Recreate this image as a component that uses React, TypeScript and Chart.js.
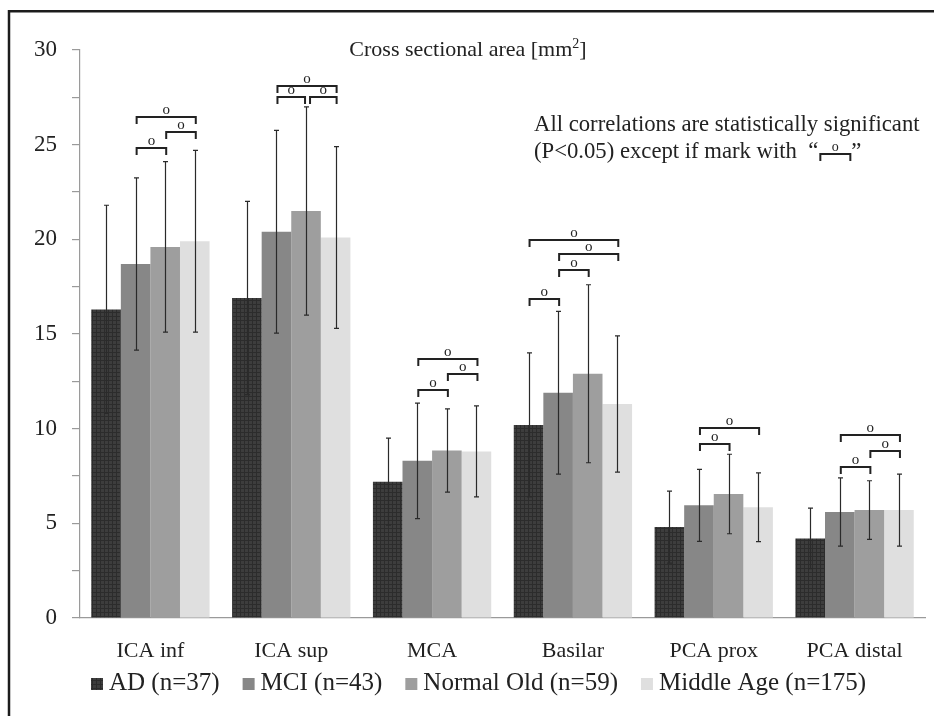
import React, { useEffect, useRef } from "react";
import { Chart, registerables } from "chart.js";

Chart.register(...registerables);

// ---------- data ----------
const categories = ["ICA inf", "ICA sup", "MCA", "Basilar", "PCA prox", "PCA distal"];
const seriesLabels = ["AD (n=37)", "MCI (n=43)", "Normal Old (n=59)", "Middle Age (n=175)"];

const meanAD = [16.3, 16.9, 7.2, 10.2, 4.8, 4.2];
const errAD = [5.5, 5.1, 2.3, 3.8, 1.9, 1.6];
const meanMCI = [18.7, 20.4, 8.3, 11.9, 5.95, 5.6];
const errMCI = [4.55, 5.35, 3.05, 4.3, 1.9, 1.8];
const meanNO = [19.6, 21.5, 8.85, 12.9, 6.55, 5.7];
const errNO = [4.5, 5.5, 2.2, 4.7, 2.1, 1.55];
const meanMA = [19.9, 20.1, 8.8, 11.3, 5.85, 5.7];
const errMA = [4.8, 4.8, 2.4, 3.6, 1.82, 1.9];

const yMin = 0;
const yMax = 30;
const yMinorStep = 2.5;
const yLabelStep = 5;

// non-significant comparisons: [category index, series from, series to, level (mm²)]
const bracketCats = [0, 0, 0, 1, 1, 1, 2, 2, 2, 3, 3, 3, 3, 4, 4, 5, 5, 5];
const bracketFrom = [1, 2, 1, 1, 2, 1, 1, 2, 1, 0, 1, 1, 0, 1, 1, 1, 2, 1];
const bracketTo = [2, 3, 3, 2, 3, 3, 2, 3, 3, 1, 2, 3, 3, 2, 3, 2, 3, 3];
const bracketLevel = [24.85, 25.65, 26.44, 27.5, 27.5, 28.1, 12.02, 12.9, 13.7, 16.84, 18.4, 19.23, 19.96, 9.19, 10.02, 8.0, 8.83, 9.65];
const bracketMark = "o";

const titleMain = "Cross sectional area [mm";
const titleSup = "2";
const titleEnd = "]";
const noteLine1 = "All correlations are statistically significant";
const noteLine2 = "(P<0.05) except if mark with  \u201C";
const noteEnd = "\u201D";

const means = [meanAD, meanMCI, meanNO, meanMA];
const errs = [errAD, errMCI, errNO, errMA];

// ---------- styling ----------
const SERIF = "'Liberation Serif', 'Times New Roman', serif";
const baseColors = ["#3b3b3b", "#878787", "#9e9e9e", "#dfdfdf"];
const INK = "#222222";

function makePattern(base: string, line: string): CanvasPattern | string {
  const c = document.createElement("canvas");
  c.width = 4;
  c.height = 4;
  const g = c.getContext("2d");
  if (!g) return base;
  g.fillStyle = base;
  g.fillRect(0, 0, 4, 4);
  g.fillStyle = line;
  g.fillRect(0, 0, 4, 1);
  g.fillRect(0, 0, 1, 4);
  return g.createPattern(c, "repeat") || base;
}

export default function App() {
  const ref = useRef<HTMLCanvasElement | null>(null);

  useEffect(() => {
    document.body.style.margin = "0";
    document.body.style.background = "#ffffff";
    const canvas = ref.current;
    if (!canvas) return;

    const fills: (string | CanvasPattern)[] = [
      makePattern("#3d3d3d", "#2c2c2c"),
      baseColors[1],
      baseColors[2],
      baseColors[3],
    ];

    const overlay = {
      id: "overlay",
      afterDatasetsDraw(chart: any) {
        const ctx: CanvasRenderingContext2D = chart.ctx;
        const y = chart.scales.y;
        ctx.save();
        // error bars
        ctx.strokeStyle = "#2a2a2a";
        ctx.lineWidth = 1.2;
        for (let s = 0; s < means.length; s++) {
          const meta = chart.getDatasetMeta(s);
          for (let c = 0; c < categories.length; c++) {
            const bar = meta.data[c];
            const x = Math.round(bar.x) + 0.5;
            const top = y.getPixelForValue(means[s][c] + errs[s][c]);
            const bot = y.getPixelForValue(means[s][c] - errs[s][c]);
            ctx.beginPath();
            ctx.moveTo(x, top);
            ctx.lineTo(x, bot);
            ctx.moveTo(x - 2.5, top);
            ctx.lineTo(x + 2.5, top);
            ctx.moveTo(x - 2.5, bot);
            ctx.lineTo(x + 2.5, bot);
            ctx.stroke();
          }
        }
        // brackets
        ctx.strokeStyle = INK;
        ctx.fillStyle = INK;
        ctx.lineWidth = 2;
        ctx.font = `15px ${SERIF}`;
        ctx.textAlign = "center";
        ctx.textBaseline = "alphabetic";
        for (let i = 0; i < bracketCats.length; i++) {
          const c = bracketCats[i];
          let x1 = chart.getDatasetMeta(bracketFrom[i]).data[c].x;
          let x2 = chart.getDatasetMeta(bracketTo[i]).data[c].x;
          const yy = Math.round(y.getPixelForValue(bracketLevel[i]));
          for (let j = 0; j < bracketCats.length; j++) {
            if (j === i || bracketCats[j] !== c || bracketLevel[j] !== bracketLevel[i]) continue;
            if (bracketTo[j] === bracketFrom[i]) x1 += 3;
            if (bracketFrom[j] === bracketTo[i]) x2 -= 2;
          }
          x1 += 1;
          x2 += 1;
          ctx.beginPath();
          ctx.moveTo(x1, yy + 7);
          ctx.lineTo(x1, yy);
          ctx.lineTo(x2, yy);
          ctx.lineTo(x2, yy + 7);
          ctx.stroke();
          ctx.fillText(bracketMark, (x1 + x2) / 2, yy - 3);
        }
        ctx.restore();
      },
      afterDraw(chart: any) {
        const ctx: CanvasRenderingContext2D = chart.ctx;
        ctx.save();
        ctx.fillStyle = INK;
        ctx.textBaseline = "alphabetic";
        ctx.textAlign = "left";

        // title
        ctx.font = `22px ${SERIF}`;
        const w1 = ctx.measureText(titleMain).width;
        const w3 = ctx.measureText(titleEnd).width;
        ctx.font = `14px ${SERIF}`;
        const w2 = ctx.measureText(titleSup).width;
        const total = w1 + w2 + w3;
        const tx = 468 - total / 2;
        const tb = 56;
        ctx.font = `22px ${SERIF}`;
        ctx.fillText(titleMain, tx, tb);
        ctx.fillText(titleEnd, tx + w1 + w2, tb);
        ctx.font = `14px ${SERIF}`;
        ctx.fillText(titleSup, tx + w1, tb - 8);

        // note
        ctx.font = `22.7px ${SERIF}`;
        const nx = 534;
        ctx.fillText(noteLine1, nx, 131);
        ctx.fillText(noteLine2, nx, 157.5);
        const lw = ctx.measureText(noteLine2).width;
        const bx1 = nx + lw + 2;
        const bx2 = bx1 + 30;
        ctx.strokeStyle = INK;
        ctx.lineWidth = 2;
        ctx.beginPath();
        ctx.moveTo(bx1, 161);
        ctx.lineTo(bx1, 154);
        ctx.lineTo(bx2, 154);
        ctx.lineTo(bx2, 161);
        ctx.stroke();
        ctx.fillText(noteEnd, bx2 + 1, 157.5);
        ctx.font = `14px ${SERIF}`;
        ctx.textAlign = "center";
        ctx.fillText(bracketMark, (bx1 + bx2) / 2, 151);
        ctx.textAlign = "left";

        // legend
        ctx.font = `25px ${SERIF}`;
        let lx = 91;
        const lb = 690;
        for (let s = 0; s < seriesLabels.length; s++) {
          ctx.fillStyle = fills[s] as any;
          ctx.fillRect(lx, lb - 12, 12, 12);
          ctx.fillStyle = INK;
          ctx.fillText(seriesLabels[s], lx + 18, lb);
          lx += 18 + ctx.measureText(seriesLabels[s]).width + 23;
        }

        // frame
        ctx.strokeStyle = "#1c1c1c";
        ctx.lineWidth = 2.5;
        ctx.beginPath();
        ctx.moveTo(934, 11.2);
        ctx.lineTo(9, 11.2);
        ctx.lineTo(9, 716);
        ctx.stroke();
        ctx.restore();
      },
    };

    const chart = new Chart(canvas, {
      type: "bar",
      data: {
        labels: categories,
        datasets: seriesLabels.map((label, i) => ({
          label,
          data: means[i],
          backgroundColor: fills[i] as any,
          borderWidth: 0,
          categoryPercentage: 0.84,
          barPercentage: 1,
        })),
      },
      options: {
        responsive: false,
        animation: false,
        devicePixelRatio: 1,
        layout: { padding: { left: 0, right: 9, top: 50, bottom: 0 } },
        plugins: {
          legend: { display: false },
          title: { display: false },
          tooltip: { enabled: false },
        },
        scales: {
          x: {
            grid: { display: false },
            border: { color: "#9a9a9a", width: 1.2 },
            ticks: {
              font: { family: SERIF, size: 22 },
              color: INK,
              padding: 12,
              maxRotation: 0,
              autoSkip: false,
            },
            afterFit: (s: any) => {
              s.height = 98;
            },
          },
          y: {
            min: yMin,
            max: yMax,
            ticks: {
              stepSize: yMinorStep,
              autoSkip: false,
              callback: (v: any) => (Number(v) % yLabelStep === 0 ? String(v) : ""),
              font: { family: SERIF, size: 23 },
              color: INK,
              padding: 15,
            },
            grid: { drawOnChartArea: false, color: "#9a9a9a", tickLength: 8, lineWidth: 1.2 },
            border: { color: "#9a9a9a", width: 1.2 },
            afterFit: (s: any) => {
              s.width = 80;
            },
          },
        },
      } as any,
      plugins: [overlay],
    });

    return () => chart.destroy();
  }, []);

  return (
    <div style={{ width: 934, height: 716, overflow: "hidden" }}>
      <canvas ref={ref} width={934} height={716} style={{ display: "block" }} />
    </div>
  );
}
